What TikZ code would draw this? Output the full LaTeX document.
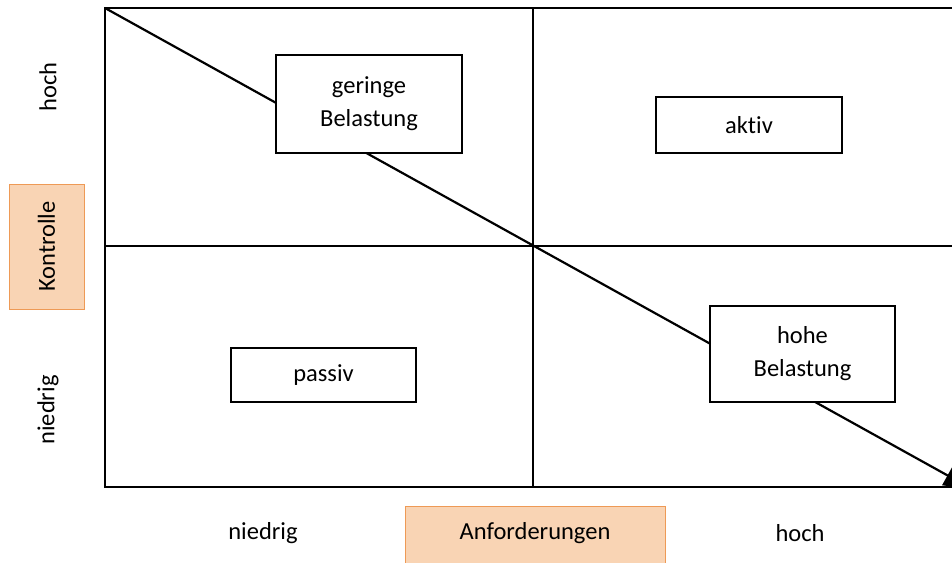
\documentclass[tikz,border=0pt]{standalone}
\usepackage{fontspec}
\setmainfont{Carlito}[Ligatures=NoCommon]
\usetikzlibrary{arrows.meta}
\definecolor{peach}{HTML}{F9D4B4}
\definecolor{peachborder}{HTML}{EE9A56}
\begin{document}
\begin{tikzpicture}[x=1pt,y=-1pt, font=\fontsize{24.5}{33}\selectfont,
  quad/.style={draw, line width=1.6pt, fill=white, align=center, inner sep=0pt},
  axisbox/.style={draw=peachborder, fill=peach, line width=1pt, inner sep=0pt},
  gridline/.style={line width=2.2pt},
  lbl/.style={inner sep=0pt}]
\useasboundingbox (0,0) rectangle (952,562);
\coordinate (tl) at (105,8);
\coordinate (tr) at (955,8);
\coordinate (bl) at (105,487);
\coordinate (br) at (955,487);
\coordinate (mt) at (533,8);
\coordinate (mb) at (533,487);
\coordinate (ml) at (105,246);
\coordinate (mr) at (955,246);
\coordinate (tip) at (972,489);
% frame and grid
\draw[gridline] (tr) -- (tl) -- (bl) -- (br);
\draw[gridline] (mt) -- (mb);
\draw[gridline] (ml) -- (mr);
% diagonal arrow
\draw[gridline, -{Triangle[length=28pt,width=22pt]}] (tl) -- (tip);
% quadrant boxes
\node[quad, minimum width=186pt, minimum height=98pt] (low) at (369,104) {geringe\\Belastung};
\node[quad, minimum width=186pt, minimum height=56pt] (act) at (749,125) {aktiv};
\node[quad, minimum width=185pt, minimum height=54pt] (pas) at (323.5,375) {passiv};
\node[quad, minimum width=185pt, minimum height=96pt] (high) at (802.5,354) {hohe\\Belastung};
% axis boxes
\node[axisbox, rotate=90, minimum width=125pt, minimum height=75pt] (kon) at (46.5,246.5) {Kontrolle};
\node[axisbox, minimum width=260pt, minimum height=70pt, anchor=north] (anf) at (535,506) {};
\node[lbl] (anftext) at (535,533) {Anforderungen};
% axis labels
\node[lbl, rotate=90] (yhoch) at (48,87) {hoch};
\node[lbl, rotate=90] (yniedrig) at (48,410) {niedrig};
\node[lbl] (xniedrig) at (263,533) {niedrig};
\node[lbl] (xhoch) at (800,533) {hoch};
\end{tikzpicture}
\end{document}
